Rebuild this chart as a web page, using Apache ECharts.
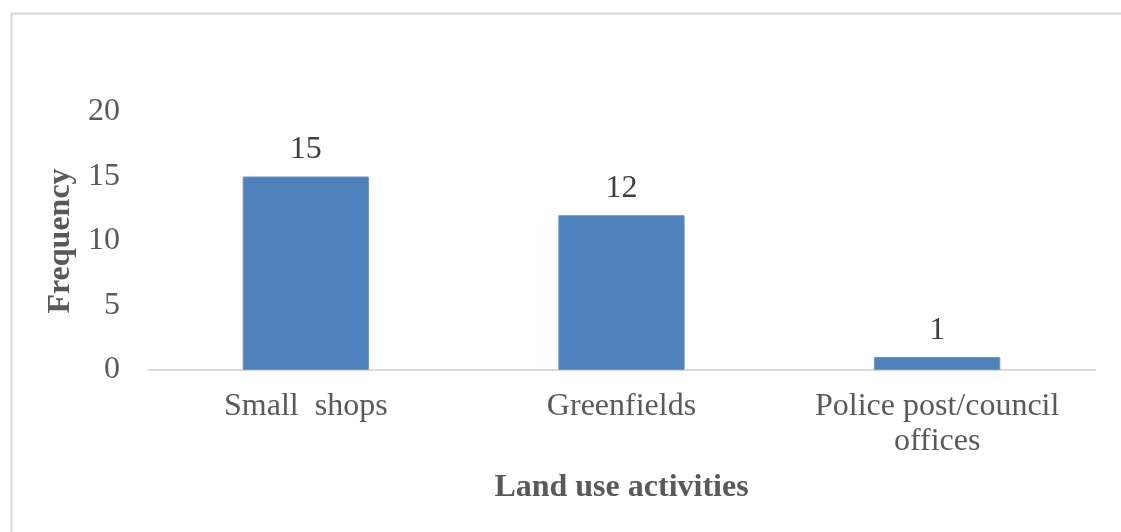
<!DOCTYPE html>
<html>
<head>
<meta charset="utf-8">
<script src="https://cdn.jsdelivr.net/npm/echarts@6/dist/echarts.min.js"></script>
<style>
  html, body { margin: 0; padding: 0; background: #ffffff; }
  #chart { width: 1121px; height: 532px; }
</style>
</head>
<body>
<div id="chart"></div>
<script>
// Land use activities and how often each was reported
const categories = ['Small  shops', 'Greenfields', 'Police post/council\noffices'];
const frequencies = [15, 12, 1];
const yTicks = { min: 0, max: 20, interval: 5 };

const textColor = '#595959';
const serif = '"Liberation Serif", "Times New Roman", serif';

const chart = echarts.init(document.getElementById('chart'), null, { renderer: 'canvas' });

chart.setOption({
  backgroundColor: '#ffffff',
  animation: false,
  graphic: [{
    type: 'rect',
    left: 9, top: 11,
    shape: { width: 1200, height: 600 },
    style: { fill: 'none', stroke: '#d9d9d9', lineWidth: 2 },
    silent: true
  }],
  grid: { left: 148, right: 26, top: 112, bottom: 162, containLabel: false },
  xAxis: {
    type: 'category',
    data: categories,
    axisLine: { show: true, lineStyle: { color: '#d9d9d9', width: 2 } },
    axisTick: { show: false },
    axisLabel: {
      color: textColor, fontFamily: serif, fontSize: 32, margin: 19, lineHeight: 35,
      interval: 0
    },
    name: 'Land use activities',
    nameLocation: 'middle',
    nameGap: 102,
    nameTextStyle: { color: textColor, fontFamily: serif, fontSize: 32, fontWeight: 'bold' }
  },
  yAxis: {
    type: 'value',
    min: yTicks.min, max: yTicks.max, interval: yTicks.interval,
    axisLine: { show: false },
    axisTick: { show: false },
    splitLine: { show: false },
    axisLabel: { color: textColor, fontFamily: serif, fontSize: 32, margin: 28 },
    name: 'Frequency',
    nameLocation: 'middle',
    nameGap: 64,
    nameTextStyle: { color: textColor, fontFamily: serif, fontSize: 32, fontWeight: 'bold' }
  },
  series: [{
    type: 'bar',
    data: frequencies,
    barWidth: '40%',
    itemStyle: { color: '#4f81bd', borderColor: '#6b95c9', borderWidth: 1 },
    label: {
      show: true, position: 'top', distance: 11,
      color: '#404040', fontFamily: serif, fontSize: 32
    }
  }]
});
</script>
</body>
</html>
